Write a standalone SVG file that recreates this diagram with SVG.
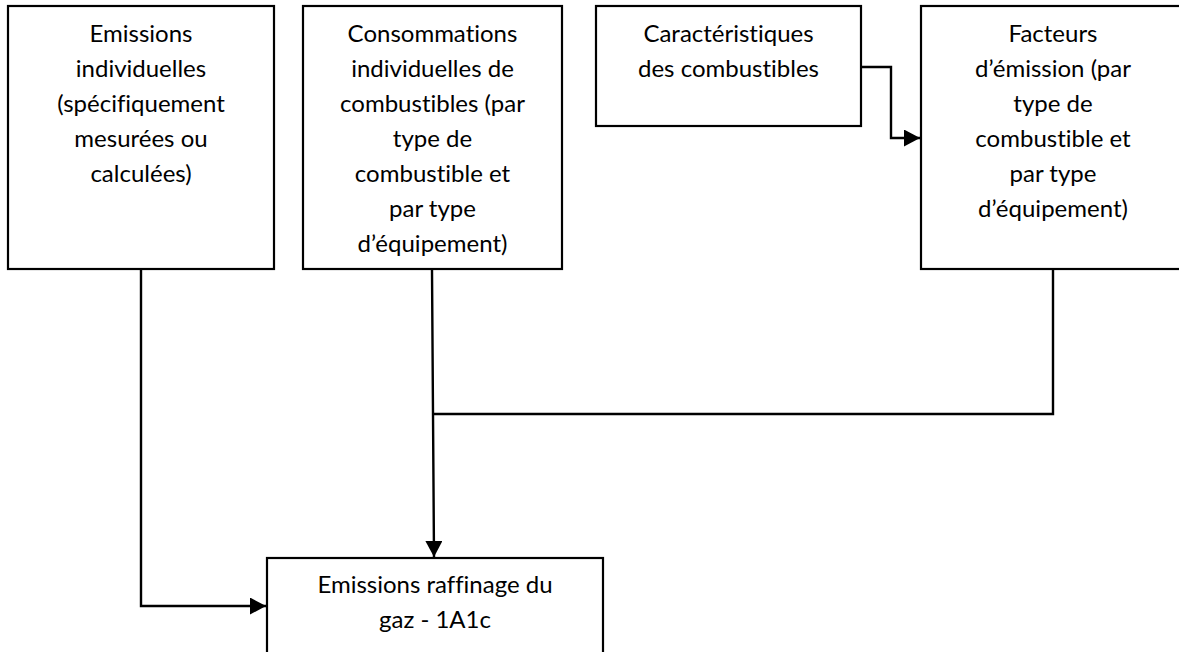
<svg xmlns="http://www.w3.org/2000/svg" width="1179" height="652" viewBox="0 0 1179 652">
  <style>
    .box { fill: #ffffff; stroke: #000000; stroke-width: 2.2; }
    .lbl { font-family: Lato, "DejaVu Sans", sans-serif; font-size: 24px; fill: #000000; text-anchor: middle; font-variant-ligatures: none; }
    .wire { fill: none; stroke: #000000; stroke-width: 2.4; }
  </style>
  <defs>
    <marker id="arrow" markerUnits="userSpaceOnUse" markerWidth="18" markerHeight="18" refX="16" refY="8.5" orient="auto">
      <path d="M0,0 L16,8.5 L0,17 Z" fill="#000000"/>
    </marker>
  </defs>
  <rect width="1179" height="652" fill="#ffffff"/>

  <g id="node-emissions-individuelles">
    <rect class="box" x="8" y="6" width="266" height="263"/>
    <text class="lbl" x="141" y="42">Emissions</text>
    <text class="lbl" x="141" y="77">individuelles</text>
    <text class="lbl" x="141" y="112">(spécifiquement</text>
    <text class="lbl" x="141" y="147">mesurées ou</text>
    <text class="lbl" x="141" y="182">calculées)</text>
  </g>

  <g id="node-consommations">
    <rect class="box" x="303" y="6" width="259" height="263"/>
    <text class="lbl" x="432.5" y="42">Consommations</text>
    <text class="lbl" x="432.5" y="77">individuelles de</text>
    <text class="lbl" x="432.5" y="112">combustibles (par</text>
    <text class="lbl" x="432.5" y="147">type de</text>
    <text class="lbl" x="432.5" y="182">combustible et</text>
    <text class="lbl" x="432.5" y="217">par type</text>
    <text class="lbl" x="432.5" y="252">d’équipement)</text>
  </g>

  <g id="node-caracteristiques">
    <rect class="box" x="596" y="6" width="265" height="120"/>
    <text class="lbl" x="728.5" y="42">Caractéristiques</text>
    <text class="lbl" x="728.5" y="77">des combustibles</text>
  </g>

  <g id="node-facteurs">
    <rect class="box" x="921" y="6" width="264" height="263"/>
    <text class="lbl" x="1053" y="42">Facteurs</text>
    <text class="lbl" x="1053" y="77">d’émission (par</text>
    <text class="lbl" x="1053" y="112">type de</text>
    <text class="lbl" x="1053" y="147">combustible et</text>
    <text class="lbl" x="1053" y="182">par type</text>
    <text class="lbl" x="1053" y="217">d’équipement)</text>
  </g>

  <g id="node-raffinage">
    <rect class="box" x="267" y="558" width="336" height="110"/>
    <text class="lbl" x="435" y="593">Emissions raffinage du</text>
    <text class="lbl" x="435" y="628">gaz - 1A1c</text>
  </g>

  <g id="connectors">
    <path class="wire" d="M141,270 L141,606 L266,606" marker-end="url(#arrow)"/>
    <path class="wire" d="M432,270 L433,414 L434,557" marker-end="url(#arrow)"/>
    <path class="wire" d="M1053,270 L1053,414 L433,414"/>
    <path class="wire" d="M862,67 L891,67 L891,138 L920,138" marker-end="url(#arrow)"/>
  </g>
</svg>
